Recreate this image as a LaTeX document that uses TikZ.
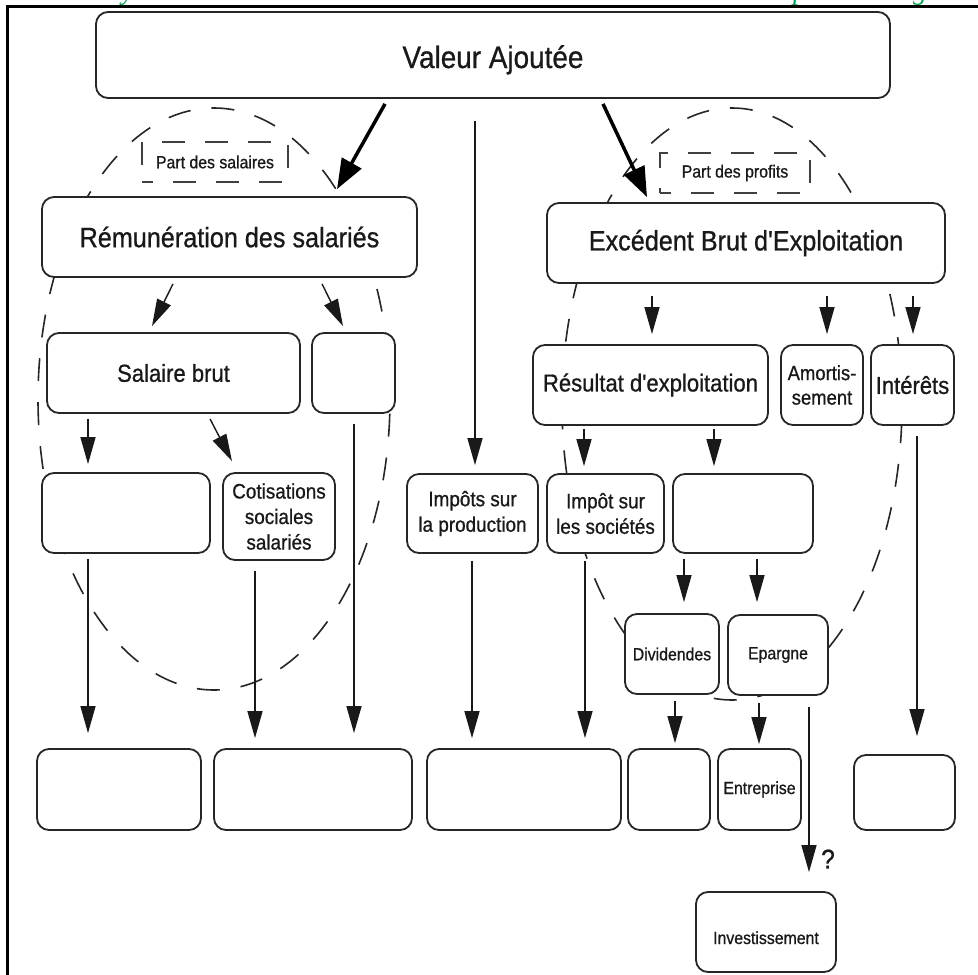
\documentclass[tikz,border=0pt]{standalone}
\usepackage{fontspec}
\setmainfont{Liberation Sans}[FakeStretch=0.9, FakeBold=0.8, Ligatures=TeXOff]
\newfontfamily\grserif{Liberation Serif}
\usetikzlibrary{arrows.meta}
\definecolor{grn}{RGB}{0,166,81}
\newcommand\ftA{\fontsize{31}{33}\selectfont}
\newcommand\ftB{\fontsize{28}{30}\selectfont}
\newcommand\ftC{\fontsize{24.5}{27}\selectfont}
\newcommand\ftD{\fontsize{21}{25.5}\selectfont}
\newcommand\ftE{\fontsize{17.6}{20}\selectfont}
\newcommand\ftF{\fontsize{20.5}{24.5}\selectfont}
\tikzset{
  box/.style={draw=black!85, line width=1.8pt, rounded corners=12pt, fill=white,
    inner sep=0pt, align=center, text=black!90},
  dbox/.style={draw=black!75, line width=2pt, dash pattern=on 23pt off 20pt,
    dash phase=12pt, inner sep=0pt, text=black!90, font=\ftE},
  ell/.style={draw=black!85, line width=1.6pt, dash pattern=on 23pt off 21pt},
  arr/.style={-{Triangle[length=27pt,width=15pt]}, line width=1.4pt, draw=black!90},
  bigarr/.style={-{Triangle[length=30pt,width=22pt]}, line width=3.5pt, draw=black},
}
\begin{document}
\begin{tikzpicture}[x=1pt,y=-1pt]
\useasboundingbox (0,0) rectangle (978,975);
\fill[white] (0,0) rectangle (978,975);

% cut-off green heading (only its descenders show above the frame)
\begin{scope}
  \clip (0,0) rectangle (978,5.5);
  \node[anchor=base, text=grn, font=\grserif\itshape\fontsize{28}{30}\selectfont] (g1) at (128,-1) {y};
  \node[anchor=base, text=grn, font=\grserif\itshape\fontsize{28}{30}\selectfont] (g2) at (800,-1) {p};
  \node[anchor=base, text=grn, font=\grserif\itshape\fontsize{28}{30}\selectfont] (g3) at (920,-1) {g};
\end{scope}

% frame
\draw[line width=3pt] (7,975) -- (7,6) -- (978,6);

% dashed ellipses
\draw[ell] (214,399) ellipse [x radius=176pt, y radius=291pt];
\draw[ell] (732,404) ellipse [x radius=170pt, y radius=296pt];

% boxes
\node[box, minimum width=794pt, minimum height=86pt, font=\ftA] (va) at (493,55) {\raisebox{-13pt}[0pt][0pt]{Valeur Ajoutée}};
\node[box, minimum width=375pt, minimum height=80pt, font=\ftB] (rem) at (229.5,237) {Rémunération des salariés};
\node[box, minimum width=398pt, minimum height=80pt, font=\ftB] (ebe) at (746,243) {Excédent Brut d'Exploitation};
\node[dbox, minimum width=146pt, minimum height=40pt] (psal) at (215,162) {Part des salaires};
\node[dbox, minimum width=150pt, minimum height=40pt] (ppro) at (735,173) {Part des profits};

\node[box, minimum width=253pt, minimum height=80pt, font=\ftC] (sb) at (173.5,373) {Salaire brut};
\node[box, minimum width=83pt, minimum height=80pt] (rem2) at (353.5,373) {};
\node[box, minimum width=235pt, minimum height=80pt, font=\ftC] (res) at (650.5,385) {Résultat d'exploitation};
\node[box, minimum width=82pt, minimum height=80pt, font=\ftF] (amo) at (822,385) {Amortis-\\sement};
\node[box, minimum width=83pt, minimum height=80pt, font=\ftC] (int) at (912.5,385) {Intérêts};

\node[box, minimum width=168pt, minimum height=80pt] (sn) at (126,513) {};
\node[box, minimum width=112pt, minimum height=87pt, font=\ftD] (cot) at (279,516.5) {Cotisations\\sociales\\salariés};
\node[box, minimum width=131pt, minimum height=79pt, font=\ftD] (ipr) at (472.5,513.5) {Impôts sur\\la production};
\node[box, minimum width=117pt, minimum height=79pt, font=\ftD] (is) at (605.5,513.5) {Impôt sur\\les sociétés};
\node[box, minimum width=140pt, minimum height=79pt] (rn) at (743,513.5) {};

\node[box, minimum width=94pt, minimum height=80pt, font=\ftE] (div) at (672,654) {Dividendes};
\node[box, minimum width=100pt, minimum height=80pt, font=\ftE] (ep) at (778,655) {Epargne};

\node[box, minimum width=164pt, minimum height=81pt] (b1) at (119,789.5) {};
\node[box, minimum width=198pt, minimum height=81pt] (b2) at (313,789.5) {};
\node[box, minimum width=194pt, minimum height=81pt] (b3) at (524,789.5) {};
\node[box, minimum width=82pt, minimum height=81pt] (b4) at (669,789.5) {};
\node[box, minimum width=83pt, minimum height=81pt, font=\ftE] (ent) at (759.5,789.5) {Entreprise};
\node[box, minimum width=101pt, minimum height=75pt] (b6) at (904.5,792.5) {};
\node[box, minimum width=140pt, minimum height=80pt, font=\ftE] (inv) at (766,932) {\raisebox{-12pt}[0pt][0pt]{Investissement}};

% connectors
\draw[bigarr] ([xshift=-108pt,yshift=-5pt]va.south) -- ([xshift=107.5pt,yshift=7pt]rem.north);
\draw[bigarr] ([xshift=110pt,yshift=-5pt]va.south) -- ([xshift=-99pt,yshift=5pt]ebe.north);
\draw[arr, shorten <=22pt, shorten >=8pt] (va.south -| 475,0) -- (ipr.north -| 475,0);

\draw[arr] ([xshift=-56.5pt,yshift=-6pt]rem.south) -- ([xshift=-21.5pt,yshift=6pt]sb.north);
\draw[arr] ([xshift=92.5pt,yshift=-6pt]rem.south) -- ([xshift=-10.5pt,yshift=6pt]rem2.north);

\draw[arr, shorten <=12pt, shorten >=10pt] (ebe.south -| 652,0) -- (res.north -| 652,0);
\draw[arr, shorten <=12pt, shorten >=10pt] (ebe.south -| 827,0) -- (amo.north -| 827,0);
\draw[arr, shorten <=12pt, shorten >=10pt] (ebe.south -| 913,0) -- (int.north -| 913,0);

\draw[arr, shorten <=5pt, shorten >=8pt] (sb.south -| 88,0) -- (sn.north -| 88,0);
\draw[arr] ([xshift=36.5pt,yshift=-5pt]sb.south) -- ([xshift=-47pt,yshift=11pt]cot.north);

\draw[arr, shorten <=3pt, shorten >=7pt] (res.south -| 584,0) -- (is.north -| 584,0);
\draw[arr, shorten <=3pt, shorten >=7pt] (res.south -| 714,0) -- (rn.north -| 714,0);

\draw[arr, shorten <=5pt, shorten >=11pt] (rn.south -| 684,0) -- (div.north -| 684,0);
\draw[arr, shorten <=5pt, shorten >=12pt] (rn.south -| 757,0) -- (ep.north -| 757,0);

\draw[arr, shorten <=5pt, shorten >=15pt] (sn.south -| 88,0) -- (b1.north -| 88,0);
\draw[arr, shorten <=10pt, shorten >=10pt] (cot.south -| 255,0) -- (b2.north -| 255,0);
\draw[arr, shorten <=10pt, shorten >=15pt] (rem2.south -| 354,0) -- (b2.north -| 354,0);
\draw[arr, shorten <=7pt, shorten >=10pt] (ipr.south -| 472,0) -- (b3.north -| 472,0);
\draw[arr, shorten <=7pt, shorten >=10pt] (is.south -| 585,0) -- (b3.north -| 585,0);
\draw[arr, shorten <=6pt, shorten >=5pt] (div.south -| 675,0) -- (b4.north -| 675,0);
\draw[arr, shorten <=7pt, shorten >=4pt] (ep.south -| 759,0) -- (ent.north -| 759,0);
\draw[arr, shorten <=10pt, shorten >=18pt] (int.south -| 917,0) -- (b6.north -| 917,0);
\draw[arr, shorten <=11pt, shorten >=19pt] (ep.south -| 809,0) -- (inv.north -| 809,0);
\node[font=\fontsize{27}{29}\selectfont, text=black!90] (q) at (828,859) {?};
\end{tikzpicture}
\end{document}
